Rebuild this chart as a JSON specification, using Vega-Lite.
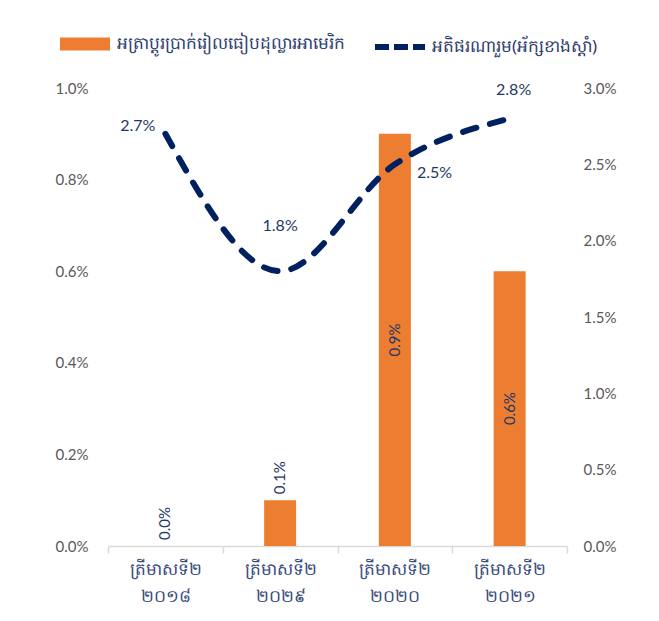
{
  "$schema": "https://vega.github.io/schema/vega-lite/v6.json",
  "width": 459,
  "height": 458,
  "autosize": {"type": "none"},
  "padding": {"left": 108, "top": 88, "right": 92, "bottom": 75},
  "background": "white",
  "config": {
    "view": {"stroke": null},
    "font": "Lato",
    "axis": {"grid": false, "labelFont": "Lato", "labelColor": "#595959", "labelFontSize": 15}
  },
  "data": {
    "values": [
      {"q": "ត្រីមាសទី២ ២០១៨", "fx": 0.0, "inf": 0.027},
      {"q": "ត្រីមាសទី២ ២០២៩", "fx": 0.001, "inf": 0.018},
      {"q": "ត្រីមាសទី២ ២០២០", "fx": 0.009, "inf": 0.025},
      {"q": "ត្រីមាសទី២ ២០២១", "fx": 0.006, "inf": 0.028}
    ]
  },
  "encoding": {
    "x": {
      "field": "q", "type": "nominal", "sort": null,
      "scale": {"paddingInner": 0, "paddingOuter": 0},
      "axis": {
        "title": null, "labelAngle": 0, "labelExpr": "isValid(datum.value) ? split(datum.value, ' ') : ''",
        "labelLineHeight": 27, "labelPadding": 8, "labelColor": "#3B4C7C", "labelFontSize": 17,
        "labelFont": "Noto Sans",
        "domainColor": "#D9D9D9", "domainWidth": 1.5, "tickColor": "#D9D9D9", "tickWidth": 1.5,
        "tickSize": 7, "tickBand": "extent"
      }
    }
  },
  "layer": [
    {
      "encoding": {
        "y": {
          "field": "fx", "type": "quantitative",
          "scale": {"domain": [0, 0.01], "nice": false},
          "axis": {"orient": "left", "title": null, "format": ".1%", "values": [0, 0.002, 0.004, 0.006, 0.008, 0.01], "domain": false, "ticks": false, "labelPadding": 20}
        }
      },
      "layer": [
        {
          "mark": {"type": "bar", "size": 32, "color": "#ED7D31"},
          "encoding": {
            "fill": {"datum": "អត្រាប្តូរប្រាក់រៀលធៀបដុល្លារអាមេរិក", "type": "nominal",
              "scale": {"range": ["#ED7D31"]},
              "legend": {"orient": "none", "legendX": -48, "legendY": -69, "title": null,
                "symbolType": "M-1,-0.26H1V0.26H-1Z", "symbolSize": 2500, "symbolStrokeWidth": 0,
                "labelFontSize": 17, "labelColor": "#2F3E6E", "labelFont": "Noto Sans", "labelOffset": 7, "labelLimit": 400}
            }
          }
        },
        {
          "transform": [{"filter": "datum.fx >= 0.003"}, {"calculate": "datum.fx / 2", "as": "mid"}],
          "mark": {"type": "text", "angle": 270, "align": "center", "baseline": "middle", "fontSize": 15, "color": "#1F3864", "font": "Lato"},
          "encoding": {"y": {"field": "mid", "type": "quantitative"}, "text": {"field": "fx", "type": "quantitative", "format": ".1%"}}
        },
        {
          "transform": [{"filter": "datum.fx < 0.003"}],
          "mark": {"type": "text", "angle": 270, "align": "left", "baseline": "middle", "dx": 6, "fontSize": 15, "color": "#1F3864", "font": "Lato"},
          "encoding": {"text": {"field": "fx", "type": "quantitative", "format": ".1%"}}
        }
      ]
    },
    {
      "encoding": {
        "y": {
          "field": "inf", "type": "quantitative",
          "scale": {"domain": [0, 0.03], "nice": false},
          "axis": {"orient": "right", "title": null, "format": ".1%", "values": [0, 0.005, 0.01, 0.015, 0.02, 0.025, 0.03], "domain": false, "ticks": false, "labelPadding": 16}
        }
      },
      "layer": [
        {
          "mark": {"type": "line", "interpolate": "monotone", "strokeWidth": 6, "strokeDash": [14, 14], "strokeCap": "round", "color": "#002060"},
          "encoding": {
            "stroke": {"datum": "អតិផរណារួម(អ័ក្សខាងស្តាំ)", "type": "nominal",
              "scale": {"range": ["#002060"]},
              "legend": {"orient": "none", "legendX": 264, "legendY": -69, "title": null,
                "symbolType": "M-1,0H1", "symbolSize": 2500, "symbolStrokeWidth": 6, "symbolDash": [14, 5],
                "labelFontSize": 17, "labelColor": "#2F3E6E", "labelFont": "Noto Sans", "labelOffset": 4, "labelLimit": 400}
            }
          }
        },
        {
          "transform": [{"filter": "datum.inf == 0.027"}],
          "mark": {"type": "text", "align": "right", "baseline": "middle", "dx": -10, "dy": -8, "fontSize": 16, "color": "#1F3864", "font": "Lato"},
          "encoding": {"text": {"field": "inf", "type": "quantitative", "format": ".1%"}}
        },
        {
          "transform": [{"filter": "datum.inf == 0.018"}],
          "mark": {"type": "text", "align": "center", "baseline": "middle", "dy": -45, "fontSize": 16, "color": "#1F3864", "font": "Lato"},
          "encoding": {"text": {"field": "inf", "type": "quantitative", "format": ".1%"}}
        },
        {
          "transform": [{"filter": "datum.inf == 0.025"}],
          "mark": {"type": "text", "align": "left", "baseline": "middle", "dx": 22, "dy": 9, "fontSize": 16, "color": "#1F3864", "font": "Lato"},
          "encoding": {"text": {"field": "inf", "type": "quantitative", "format": ".1%"}}
        },
        {
          "transform": [{"filter": "datum.inf == 0.028"}],
          "mark": {"type": "text", "align": "center", "baseline": "middle", "dx": 4, "dy": -29, "fontSize": 16, "color": "#1F3864", "font": "Lato"},
          "encoding": {"text": {"field": "inf", "type": "quantitative", "format": ".1%"}}
        }
      ]
    }
  ],
  "resolve": {"scale": {"y": "independent", "fill": "independent", "stroke": "independent"}}
}
